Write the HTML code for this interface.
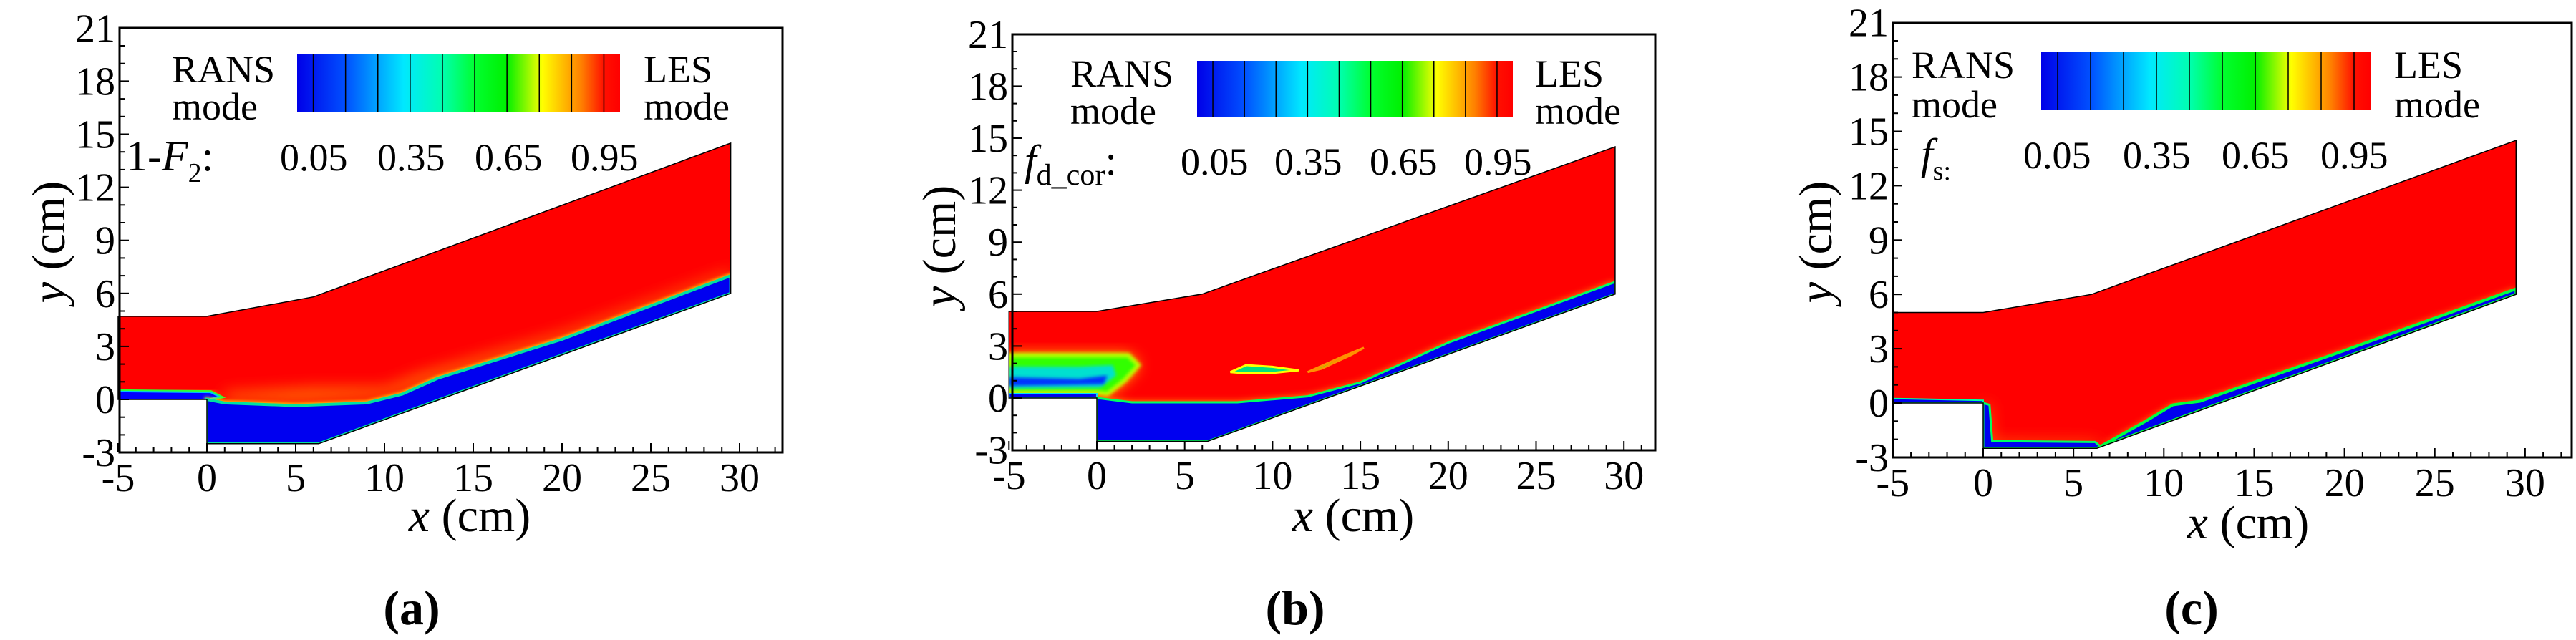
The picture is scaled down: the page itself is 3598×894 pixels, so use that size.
<!DOCTYPE html>
<html><head><meta charset="utf-8">
<style>
html,body{margin:0;padding:0;background:#fff;}
svg{display:block;}
svg text{font-family:'Liberation Serif','Times New Roman',serif !important;fill:#000;}
</style></head>
<body>
<svg id="fig" width="3598" height="894" viewBox="0 0 3598 894" xmlns="http://www.w3.org/2000/svg" font-family="Liberation Serif, serif">
<defs>
<linearGradient id="cmap" x1="0" y1="0" x2="1" y2="0">
<stop offset="0" stop-color="#0000e8"/>
<stop offset="0.15" stop-color="#0050ff"/>
<stop offset="0.33" stop-color="#00e8ff"/>
<stop offset="0.45" stop-color="#00ffb0"/>
<stop offset="0.55" stop-color="#00ff30"/>
<stop offset="0.65" stop-color="#00f000"/>
<stop offset="0.76" stop-color="#ffff00"/>
<stop offset="0.88" stop-color="#ff8000"/>
<stop offset="0.95" stop-color="#ff1000"/>
<stop offset="1" stop-color="#ff0000"/>
</linearGradient>
<filter id="blur6" x="-20%" y="-20%" width="140%" height="140%"><feGaussianBlur stdDeviation="5"/></filter>
<filter id="blur3" x="-20%" y="-20%" width="140%" height="140%"><feGaussianBlur stdDeviation="2.5"/></filter>
<filter id="blur14" x="-30%" y="-30%" width="160%" height="160%"><feGaussianBlur stdDeviation="10"/></filter>
</defs>
</svg>
<script>
// ---- shared data ----
const xTicks = [-5, 0, 5, 10, 15, 20, 25, 30];
const yTicks = [-3, 0, 3, 6, 9, 12, 15, 18, 21];
const cbLevels = [0.05, 0.15, 0.25, 0.35, 0.45, 0.55, 0.65, 0.75, 0.85, 0.95];
const cbLabels = [0.05, 0.35, 0.65, 0.95];
// domain outlines (x, y in cm)
const domainA = [[-5,4.7],[0,4.7],[6,5.8],[29.5,14.5],[29.5,6],[6.3,-2.5],[0,-2.5],[0,0],[-5,0]];
const domainBC = [[-5,5.0],[0,5.0],[6,6.0],[29.5,14.5],[29.5,6],[6.3,-2.5],[0,-2.5],[0,0],[-5,0]];
// panel (a) RANS regions
const aInlet = [[-5,0],[0,0],[0.7,0.15],[0.2,0.4],[-5,0.45]];
const aCavity = [[0,0],[1,-0.2],[5,-0.35],[9,-0.2],[11,0.3],[13,1.2],[20,3.4],[29.5,7.0],[29.5,6],[6.3,-2.5],[0,-2.5]];
const aGlow = [[1,0.4],[6,0.7],[10,0.7],[12,1.5],[20,3.8],[29.5,7.3],[29.5,6.9],[20,3.3],[13,1.1],[10,0.1],[5,-0.2],[1,-0.1]];
// panel (b) RANS regions
const bInletGreen = [[-5,2.5],[1.8,2.5],[2.4,1.9],[1.6,1.0],[0.6,0.2],[0,0.3],[-5,0.3]];
const bInletCyan = [[-5,1.8],[-1,1.8],[0.9,1.9],[1.1,1.3],[0.2,0.6],[-5,0.55]];
const bInletBlue = [[-5,1.2],[-1,1.1],[0.6,1.3],[0.4,0.8],[-5,0.7]];
const bStrip = [[-5,0],[0,0],[0,0.25],[-5,0.25]];
const bCavity = [[0,0],[2,-0.25],[8,-0.25],[12,0.1],[15,0.9],[20,3.2],[29.5,6.7],[29.5,6],[6.3,-2.5],[0,-2.5]];
const bStreak1 = [[7.6,1.5],[8.5,1.9],[10,1.8],[11.5,1.6],[10,1.45],[8.2,1.45]];
const bStreak2 = [[12,1.5],[14,2.4],[15.2,2.9],[14.5,2.5],[12.8,1.7]];
// panel (c) RANS regions
const cInlet = [[-5,0],[0,0],[0,0.15],[-5,0.25]];
const cWall = [[0,0],[0.35,-0.1],[0.5,-2.1],[6.2,-2.15],[6.6,-2.5],[0,-2.5]];
const cRamp = [[6.3,-2.5],[9,-1],[10.5,-0.1],[12,0.1],[20,2.9],[29.5,6.3],[29.5,6]];
// ---- layout ----
const panels = [
 {id:'a', L:167,R:1093,T:39,B:632, x0:289, sx:24.8, y0:558, sy:24.7,
  cb:[415,76,451,80], rans:240, les:899, cbTop:115, cbBot:167, lab:176, labY:238, vals:[391,527,663,797],
  xl:656, xlY:742, cap:575, ylX:70, ylY:338, domain:domainA},
 {id:'b', L:1414,R:2312,T:48,B:629, x0:1532, sx:24.54, y0:556, sy:24.2,
  cb:[1672,85,441,79], rans:1495, les:2144, cbTop:121, cbBot:173, lab:1431, labY:244, vals:[1649,1780,1913,2045],
  xl:1890, xlY:742, cap:1809, ylX:1314, ylY:344, domain:domainBC},
 {id:'c', L:2644,R:3592,T:32,B:639, x0:2770, sx:25.23, y0:563, sy:25.3,
  cb:[2851,72,460,82], rans:2670, les:3344, cbTop:109, cbBot:164, lab:2683, labY:235, vals:[2826,2965,3103,3241],
  xl:3140, xlY:752, cap:3061, ylX:2538, ylY:338, domain:domainBC}
];
const NS='http://www.w3.org/2000/svg';
const svg=document.getElementById('fig');
const FONT="font-family:'Liberation Serif','Times New Roman',serif";
function el(tag,attrs,parent){const e=document.createElementNS(NS,tag);for(const k in attrs)e.setAttribute(k,attrs[k]);if(tag==='text')e.setAttribute('style',FONT);(parent||svg).appendChild(e);return e;}

panels.forEach(p=>{
  const X=v=>p.x0+v*p.sx, Y=v=>p.y0-v*p.sy;
  const pts=arr=>arr.map(q=>X(q[0]).toFixed(1)+','+Y(q[1]).toFixed(1)).join(' ');
  const g=el('g',{});
  
  
  const cp=el('clipPath',{id:'clip'+p.id},g);
  el('polygon',{points:pts(p.domain)},cp);
  const field=el('g',{'clip-path':'url(#clip'+p.id+')'},g);
  
  
  el('polygon',{points:pts(p.domain),fill:'#ff0000'},field);
  const poly=(arr,fill,filt,stroke,sw)=>{const a={points:pts(arr),fill:fill};if(filt)a.filter='url(#'+filt+')';if(stroke){a.stroke=stroke;a['stroke-width']=sw;}return el('polygon',a,field);};
  if(p.id==='a'){
    poly(aGlow,'#ff6000','blur14');
    poly(aInlet,'#ffff00','blur6',null);
    poly(aInlet,'#00ff40',null,'#30ff30',6);
    poly(aInlet,'#0000ff',null,'#00c0ff',2);
    poly(aCavity,'#c0ff00','blur3','#ffe000',6);
    poly(aCavity,'#0000f0',null,'#00e0a0',4);
  } else if(p.id==='b'){
    poly(bInletGreen,'#ffd000','blur14');
    poly(bInletGreen,'#30ff00','blur3','#c0ff00',5);
    poly(bInletCyan,'#00e0d0','blur3');
    poly(bInletBlue,'#0030ff','blur3');
    poly(bStrip,'#0000f0',null,'#00e0ff',2);
    poly(bStreak1,'#00e080',null,'#ffff00',3);
    poly(bStreak2,'#40ff00',null,'#ff9000',3);
    poly(bCavity,'#ffc000','blur6');
    poly(bCavity,'#0000f0',null,'#00ff60',3);
  } else {
    poly(cWall,'#ff6000','blur14');
    poly(cRamp,'#ffb000','blur6');
    poly(cInlet,'#0000f0',null,'#00ffa0',2);
    poly(cWall,'#0000f0',null,'#00ff60',3);
    poly(cRamp,'#0000f0',null,'#00ff40',4);
  }
  el('polygon',{points:pts(p.domain),fill:'none',stroke:'#000','stroke-width':1.5},g);
  const ax=el('rect',{x:p.L,y:p.T,width:p.R-p.L,height:p.B-p.T,fill:'none',stroke:'#000','stroke-width':3},g);
  
  
  for(let v=-5;v<=32;v++){
    const x=X(v); if(x>p.R-2) break;
    const major=xTicks.includes(v);
    el('line',{x1:x,y1:p.B,x2:x,y2:p.B-(major?13:7),stroke:'#000','stroke-width':2},g);
  }
  for(let v=-3;v<=21;v++){
    const y=Y(v), major=yTicks.includes(v);
    el('line',{x1:p.L,y1:y,x2:p.L+(major?13:7),y2:y,stroke:'#000','stroke-width':2},g);
  }
  xTicks.forEach(v=>{
    const t=el('text',{x:X(v),y:p.B+54,'font-size':56,'text-anchor':'middle'},g);
    t.textContent=String(v);
    
    
  });
  yTicks.forEach(v=>{
    const t=el('text',{x:p.L-6,y:Y(v)+19,'font-size':56,'text-anchor':'end'},g);
    t.textContent=String(v);
    
    
  });
  const xt=el('text',{x:p.xl,y:p.xlY,'font-size':66,'text-anchor':'middle'},g);
  xt.innerHTML='<tspan font-style="italic">x</tspan> (cm)';
  
  
  const yt=el('text',{x:p.ylX,y:p.ylY,'font-size':66,'text-anchor':'middle',transform:'rotate(-90 '+p.ylX+' '+p.ylY+')',dy:20},g);
  yt.innerHTML='<tspan font-style="italic">y</tspan> (cm)';
  
  
  const cap=el('text',{x:p.cap,y:872,'font-size':68,'text-anchor':'middle','font-weight':'bold'},g);
  cap.textContent='('+p.id+')';
  
  
  const [bx,by,bw,bh]=p.cb;
  const cb=el('rect',{x:bx,y:by,width:bw,height:bh,fill:'url(#cmap)'},g);
  
  
  cbLevels.forEach(v=>{el('line',{x1:bx+v*bw,y1:by,x2:bx+v*bw,y2:by+bh,stroke:'#000','stroke-width':1.5},g);});
  [['RANS',p.rans,p.cbTop],['mode',p.rans,p.cbBot],['LES',p.les,p.cbTop],['mode',p.les,p.cbBot]].forEach(a=>{
    const t=el('text',{x:a[1],y:a[2],'font-size':54},g);
    t.textContent=a[0];
    
    
  });
  cbLabels.forEach((v,i)=>{
    const t=el('text',{x:p.vals[i],y:p.labY,'font-size':54},g);
    t.textContent=v.toFixed(2);
    
    
  });
  const vl=el('text',{x:p.lab,y:p.labY,'font-size':60},g);
  if(p.id==='a') vl.innerHTML='1-<tspan font-style="italic">F</tspan><tspan font-size="38" dy="16">2</tspan><tspan dy="-16">:</tspan>';
  else if(p.id==='b') vl.innerHTML='<tspan font-style="italic">f</tspan><tspan font-size="42" dy="14">d_cor</tspan><tspan dy="-14">:</tspan>';
  else vl.innerHTML='<tspan font-style="italic">f</tspan><tspan font-size="38" dy="16">s:</tspan>';
  
  
});
</script>
</body></html>
